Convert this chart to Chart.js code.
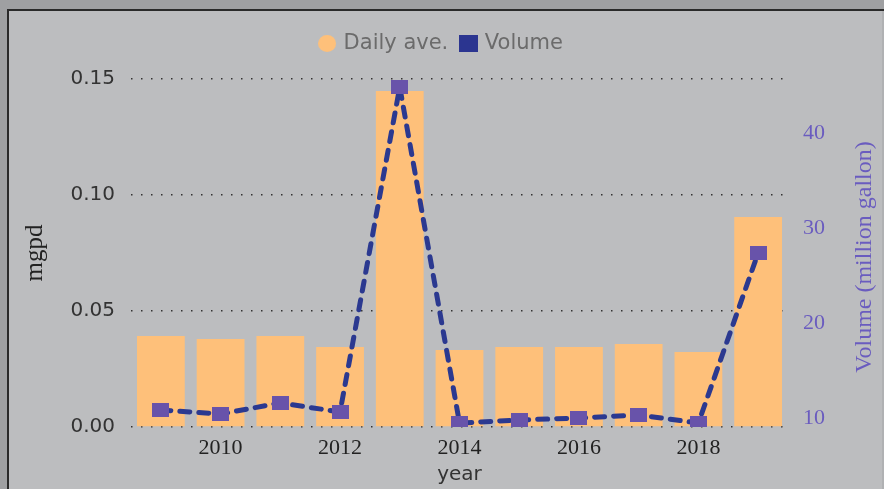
<!DOCTYPE html>
<html>
<head>
<meta charset="utf-8">
<script src="https://cdn.jsdelivr.net/npm/chart.js@4"></script>
<style>
  html, body { margin: 0; padding: 0; background: #bcbdbf; }
  #wrap { width: 884px; height: 489px; }
</style>
</head>
<body>
<div id="wrap"><canvas id="myChart" width="884" height="489"></canvas></div>
<script>
// data
const years = ['2009', '2010', '2011', '2012', '2013', '2014', '2015', '2016', '2017', '2018', '2019'];
const dailyAve = [0.0392, 0.0379, 0.0392, 0.0345, 0.1448, 0.0332, 0.0345, 0.0345, 0.0358, 0.0323, 0.0905];
const volume = [10.84, 10.42, 11.58, 10.63, 44.84, 9.47, 9.79, 10.0, 10.32, 9.47, 27.37];
const leftTicks = [0, 0.05, 0.10, 0.15];
const rightTicks = [10, 20, 30, 40];

// small canvases used as point / legend symbols
function makeSymbol(w, h, color, round) {
    const cv = document.createElement('canvas');
    cv.width = w;
    cv.height = h;
    const c = cv.getContext('2d');
    c.fillStyle = color;
    if (round) {
        c.beginPath();
        c.ellipse(w / 2, h / 2, w / 2, h / 2, 0, 0, Math.PI * 2);
        c.fill();
    } else {
        c.fillRect(0, 0, w, h);
    }
    return cv;
}
const marker = makeSymbol(17, 14, '#6853aa', false);
const legendCircle = makeSymbol(18, 17, '#fec07a', true);
const legendSquare = makeSymbol(19, 17, '#2b3590', false);

const framePlugin = {
    id: 'frame',
    beforeDraw(chart) {
        const c = chart.ctx;
        c.save();
        c.fillStyle = '#bcbdbf';
        c.fillRect(0, 0, 884, 489);
        c.fillStyle = '#9fa0a2';
        c.fillRect(0, 0, 8, 489);
        c.fillRect(0, 0, 884, 9);
        c.fillStyle = '#2a2a2a';
        c.fillRect(7, 9, 2, 480);
        c.fillRect(7, 9, 877, 2);
        c.fillStyle = '#b0b1b3';
        c.fillRect(882, 11, 2, 478);
        c.restore();
    },
    afterDraw(chart) {
        // right axis title reads bottom to top in the original
        const c = chart.ctx;
        c.save();
        c.translate(865, 257);
        c.rotate(-Math.PI / 2);
        c.font = '24px "Liberation Serif"';
        c.fillStyle = '#6a5cbf';
        c.textAlign = 'center';
        c.textBaseline = 'middle';
        c.fillText('Volume (million gallon)', 0, 0);
        c.restore();
    }
};

const legendHeight = {
    id: 'legendHeight',
    beforeInit(chart) {
        const fit = chart.legend.fit;
        chart.legend.fit = function () {
            fit.bind(chart.legend)();
            this.height = 60;
        };
    }
};

const ctx = document.getElementById('myChart');

new Chart(ctx, {
    data: {
        labels: years,
        datasets: [{
            type: 'bar',
            label: 'Daily ave.',
            data: dailyAve,
            yAxisID: 'y',
            backgroundColor: '#fec07a',
            barPercentage: 0.8,
            categoryPercentage: 1.0,
            order: 1
        }, {
            type: 'line',
            label: 'Volume',
            data: volume,
            yAxisID: 'y1',
            borderColor: '#2b3990',
            borderWidth: 5,
            borderDash: [10, 9],
            borderCapStyle: 'round',
            pointStyle: marker,
            pointRadius: 8,
            tension: 0,
            order: 0
        }]
    },
    options: {
        responsive: false,
        animation: false,
        layout: { padding: { top: 19, left: 0, right: 0, bottom: 0 } },
        plugins: {
            tooltip: { enabled: false },
            legend: {
                position: 'top',
                labels: {
                    padding: 14,
                    font: { family: '"DejaVu Sans"', size: 21 },
                    color: '#6b6b6b',
                    usePointStyle: true,
                    boxWidth: 12,
                    boxHeight: 12,
                    generateLabels(chart) {
                        return [{
                            text: 'Daily ave.', fillStyle: '#fec07a', strokeStyle: '#fec07a',
                            lineWidth: 0, pointStyle: legendCircle, datasetIndex: 0, fontColor: '#6b6b6b'
                        }, {
                            text: 'Volume', fillStyle: '#2b3590', strokeStyle: '#2b3590',
                            lineWidth: 0, pointStyle: legendSquare, datasetIndex: 1, fontColor: '#6b6b6b'
                        }];
                    }
                }
            }
        },
        scales: {
            x: {
                grid: { display: false },
                border: { display: false },
                ticks: {
                    autoSkip: false,
                    maxRotation: 0,
                    padding: 0,
                    color: '#222',
                    font: { family: '"Liberation Serif"', size: 22 },
                    callback: function (val) {
                        const lab = this.getLabelForValue(val);
                        return Number(lab) % 2 === 0 ? lab : '';
                    }
                },
                title: {
                    display: true,
                    text: 'year',
                    color: '#333',
                    font: { family: '"DejaVu Sans"', size: 20 },
                    padding: { top: 0, bottom: 2 }
                },
                afterFit(scale) { scale.height = 62; }
            },
            y: {
                position: 'left',
                min: 0,
                max: 0.15,
                afterBuildTicks(scale) { scale.ticks = leftTicks.map(v => ({ value: v })); },
                grid: {
                    color: '#333',
                    lineWidth: 1.5,
                    drawTicks: false
                },
                border: { display: false, dash: [1.5, 8.5] },
                ticks: {
                    padding: 16,
                    color: '#333',
                    font: { family: '"DejaVu Sans"', size: 20 },
                    callback: v => v.toFixed(2)
                },
                title: {
                    display: true,
                    text: 'mgpd',
                    color: '#222',
                    font: { family: '"Liberation Serif"', size: 25 },
                    padding: { top: 20, bottom: 0 }
                },
                afterFit(scale) { scale.width = 131; }
            },
            y1: {
                position: 'right',
                min: 9.05,
                max: 45.68,
                afterBuildTicks(scale) { scale.ticks = rightTicks.map(v => ({ value: v })); },
                grid: { drawOnChartArea: false, drawTicks: false },
                border: { display: false },
                ticks: {
                    padding: 15,
                    color: '#6a5cbf',
                    font: { family: '"Liberation Serif"', size: 22 }
                },
                afterFit(scale) { scale.width = 96; }
            }
        }
    },
    plugins: [framePlugin, legendHeight]
});
</script>
</body>
</html>
